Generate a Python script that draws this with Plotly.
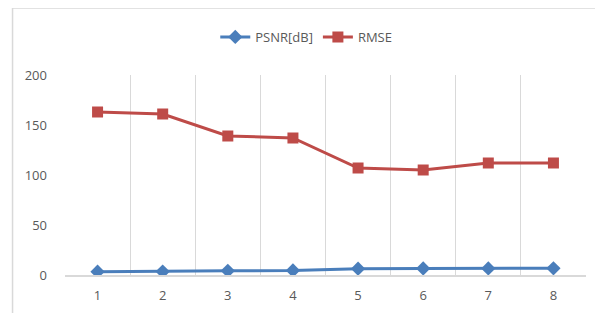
import plotly.graph_objects as go

categories = ["1", "2", "3", "4", "5", "6", "7", "8"]
psnr = [3.3, 3.4, 4.2, 4.5, 6.3, 6.5, 6.6, 6.7]
rmse = [163, 161, 139, 137, 107, 105, 112, 112]
y_ticks = [0, 50, 100, 150, 200]

fig = go.Figure()
fig.add_trace(go.Scatter(x=categories, y=psnr, name="PSNR[dB]", mode="lines+markers",
                         line=dict(color="#4A7EBB", width=3),
                         marker=dict(symbol="diamond", size=11, color="#4A7EBB")))
fig.add_trace(go.Scatter(x=categories, y=rmse, name="RMSE", mode="lines+markers",
                         line=dict(color="#BE4B48", width=3),
                         marker=dict(symbol="square", size=11, color="#BE4B48")))

# page body has an 8px margin, so work in shifted pixel coordinates
OFF = 8
W, H = 603 - OFF, 313 - OFF
L, T = 64.5 - OFF, 75 - OFF
R = W - (586 - OFF)
B = H - (275 - OFF)
pw, ph = W - L - R, H - T - B

def px(x):
    return (x - OFF - L) / pw

def py(y):
    return (H - B - (y - OFF)) / ph

fig.update_layout(
    width=W, height=H,
    margin=dict(l=L, r=R, t=T, b=B, autoexpand=False),
    paper_bgcolor="white", plot_bgcolor="white",
    font=dict(family="Open Sans, Liberation Sans, sans-serif", size=13, color="#595959"),
    showlegend=True,
    legend=dict(orientation="h", x=px(306), xanchor="center", y=py(37), yanchor="middle",
                font=dict(size=13, color="#595959"), itemwidth=30, traceorder="normal"),
    xaxis=dict(type="category", showgrid=True, gridcolor="#D9D9D9", gridwidth=1,
               showline=True, linecolor="#D9D9D9", linewidth=1.5, ticks="",
               ticklabelstandoff=8,
               tickfont=dict(size=13, color="#595959"), range=[-0.5, 7.5]),
    yaxis=dict(range=[0, 200], tickvals=y_ticks, showgrid=False, zeroline=False,
               showline=False, ticks="", tickfont=dict(size=13, color="#595959"),
               ticklabelstandoff=17),
    shapes=[
        dict(type="line", xref="paper", yref="paper", x0=px(12), x1=px(603), y0=py(8), y1=py(8),
             line=dict(color="#D9D9D9", width=1.5)),
        dict(type="line", xref="paper", yref="paper", x0=px(12), x1=px(12), y0=py(8), y1=py(313),
             line=dict(color="#D9D9D9", width=1.5)),
    ],
)
fig.update_xaxes(tickson="boundaries")

fig.write_html("out.html")
